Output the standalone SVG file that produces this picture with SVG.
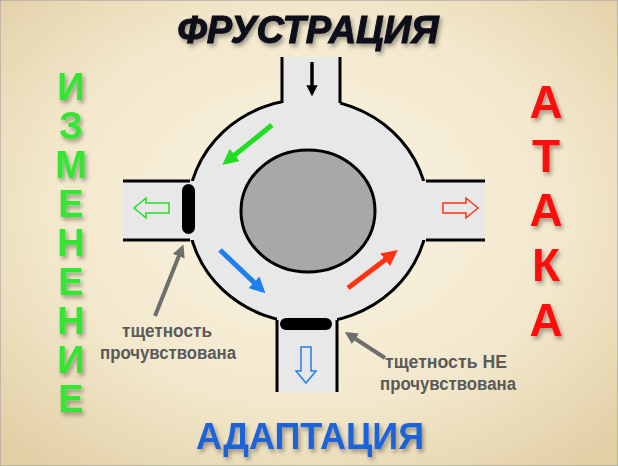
<svg xmlns="http://www.w3.org/2000/svg" width="618" height="466" viewBox="0 0 618 466">
<defs>
<radialGradient id="bg" cx="50%" cy="45%" r="70%">
<stop offset="0" stop-color="#faf4e4"/><stop offset="0.6" stop-color="#f3e8cc"/><stop offset="1" stop-color="#e2cfa6"/>
</radialGradient>
<marker id="mb" viewBox="0 0 10 10" refX="7" refY="5" markerWidth="3.2" markerHeight="3.2" orient="auto"><path d="M0,0 L10,5 L0,10 z" fill="#000"/></marker>
<marker id="mg" viewBox="0 0 10 10" refX="7" refY="5" markerWidth="3.2" markerHeight="3.2" orient="auto"><path d="M0,0 L10,5 L0,10 z" fill="#22dd22"/></marker>
<marker id="mbl" viewBox="0 0 10 10" refX="7" refY="5" markerWidth="3.2" markerHeight="3.2" orient="auto"><path d="M0,0 L10,5 L0,10 z" fill="#1e7ff0"/></marker>
<marker id="mr" viewBox="0 0 10 10" refX="7" refY="5" markerWidth="3.2" markerHeight="3.2" orient="auto"><path d="M0,0 L10,5 L0,10 z" fill="#ff3311"/></marker>
<marker id="mgr" viewBox="0 0 10 10" refX="7" refY="5" markerWidth="3.2" markerHeight="3.2" orient="auto"><path d="M0,0 L10,5 L0,10 z" fill="#6e6e6e"/></marker>
<filter id="sh" x="-10%" y="-10%" width="130%" height="140%"><feDropShadow dx="2" dy="3" stdDeviation="2" flood-color="#000" flood-opacity="0.35"/></filter>
</defs>
<style>
.road{fill:#e8e8e8}
.edge{stroke:#000;stroke-width:3;fill:none}
.lbl{font-family:"Liberation Sans",Arial,sans-serif;font-weight:bold;font-size:18px;fill:#5a5a5a;text-anchor:middle}
.big{font-family:"Liberation Sans",Arial,sans-serif;font-weight:bold;text-anchor:middle}
</style>
<rect width="618" height="466" fill="url(#bg)" stroke="#999" stroke-width="1"/>
<g id="titles">
<text class="big" x="308" y="43" font-size="38" font-style="italic" fill="#0a0d1a" stroke="#0a0d1a" stroke-width="1" filter="url(#sh)">ФРУСТРАЦИЯ</text>
<text class="big" x="310" y="449" font-size="36" fill="#1b62d8" filter="url(#sh)">АДАПТАЦИЯ</text>
<g class="big" font-size="38" fill="#33e633" filter="url(#sh)">
<text x="71" y="100">И</text><text x="71" y="139">З</text><text x="71" y="178">М</text><text x="71" y="217">Е</text><text x="71" y="256">Н</text><text x="71" y="295">Е</text><text x="71" y="334">Н</text><text x="71" y="373">И</text><text x="71" y="412">Е</text>
</g>
<g class="big" font-size="46" fill="#ff1111" filter="url(#sh)">
<text x="546" y="118">А</text><text x="546" y="172">Т</text><text x="546" y="226">А</text><text x="546" y="281">К</text><text x="546" y="336">А</text>
</g>
</g>
<g id="roundabout">
<ellipse cx="308" cy="211" rx="120" ry="112" class="road" stroke="#000" stroke-width="3"/>
<rect class="road" x="282" y="57" width="58" height="60"/>
<rect class="road" x="123" y="181" width="80" height="59"/>
<rect class="road" x="413" y="181" width="72" height="59"/>
<rect class="road" x="277" y="305" width="60" height="87"/>
<path class="edge" d="M282,57 V103 M340,57 V103 M123,181 H190 M123,240 H190 M485,181 H426 M485,240 H426 M277,392 V320 M337,392 V320"/>
<ellipse cx="308" cy="211" rx="67" ry="61" fill="#a8a8a8" stroke="#000" stroke-width="3"/>
<rect x="182" y="184" width="13" height="50" rx="6.5" fill="#000"/>
<rect x="280" y="318" width="52" height="12" rx="6" fill="#000"/>
</g>
<g id="connectors" fill="none">
<line x1="312" y1="62" x2="312" y2="93" stroke="#000" stroke-width="3.5" marker-end="url(#mb)"/>
<line x1="272" y1="125" x2="226" y2="162" stroke="#22dd22" stroke-width="5" marker-end="url(#mg)"/>
<line x1="220" y1="250" x2="262" y2="290" stroke="#1e7ff0" stroke-width="5" marker-end="url(#mbl)"/>
<line x1="348" y1="288" x2="394" y2="253" stroke="#ff3311" stroke-width="5" marker-end="url(#mr)"/>
<line x1="155" y1="316" x2="182" y2="248" stroke="#6e6e6e" stroke-width="4" marker-end="url(#mgr)"/>
<line x1="385" y1="358" x2="348" y2="334" stroke="#6e6e6e" stroke-width="4" marker-end="url(#mgr)"/>
<path d="M169,203 H146 V198 L134,208 L146,218 V213 H169 z" stroke="#22dd22" stroke-width="1.5"/>
<path d="M443,203 H466 V198 L478,208 L466,218 V213 H443 z" stroke="#ff3311" stroke-width="1.5"/>
<path d="M301,347 V371 H296 L306,383 L316,371 H311 V347 z" stroke="#1e7ff0" stroke-width="1.5"/>
</g>
<g id="labels">
<text class="lbl" x="167" y="337" textLength="90" lengthAdjust="spacingAndGlyphs">тщетность</text>
<text class="lbl" x="168" y="359" textLength="136" lengthAdjust="spacingAndGlyphs">прочувствована</text>
<text class="lbl" x="446" y="368" textLength="122" lengthAdjust="spacingAndGlyphs">тщетность НЕ</text>
<text class="lbl" x="448" y="390" textLength="136" lengthAdjust="spacingAndGlyphs">прочувствована</text>
</g>
</svg>
